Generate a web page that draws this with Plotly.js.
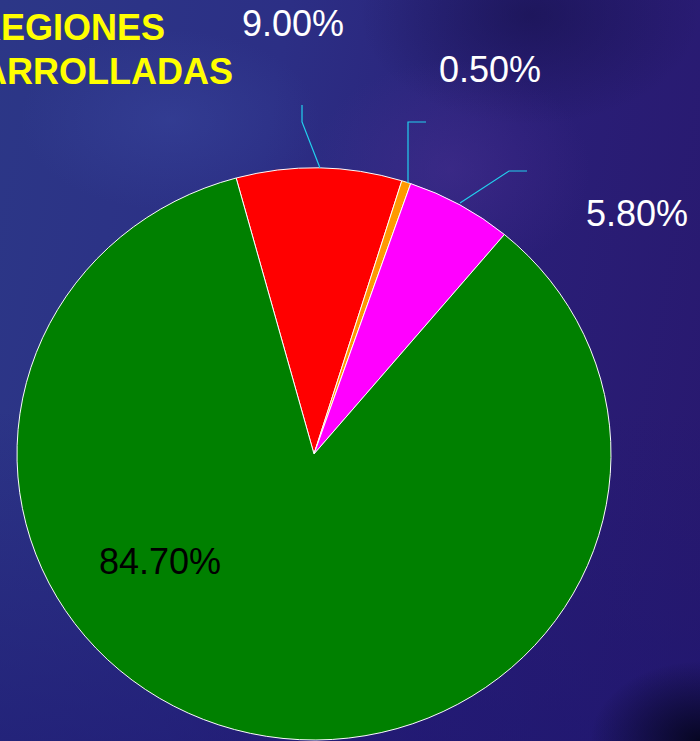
<!DOCTYPE html>
<html>
<head>
<meta charset="utf-8">
<script src="https://cdn.plot.ly/plotly-3.0.1.min.js"></script>
<style>
  html, body { margin:0; padding:0; width:700px; height:741px; overflow:hidden; }
  body {
    background:
      radial-gradient(ellipse 150px 90px at 170px 120px, rgba(58,72,160,0.45), rgba(58,72,160,0) 100%),
      radial-gradient(ellipse 140px 110px at 450px 170px, rgba(80,50,150,0.40), rgba(80,50,150,0) 100%),
      radial-gradient(ellipse 110px 80px at 700px 741px, rgba(5,5,30,0.95), rgba(5,5,30,0) 100%),
      radial-gradient(ellipse 170px 110px at 530px 15px, rgba(20,15,70,0.55), rgba(20,15,70,0) 100%),
      linear-gradient(180deg, rgba(0,0,0,0) 55%, rgba(28,22,112,0.55) 100%),
      linear-gradient(100deg, #2c3787 0%, #2c2f85 35%, #2a1f78 65%, #28186e 100%);
  }
  #chart { width:700px; height:760px; }
</style>
</head>
<body>
<div id="chart"></div>
<script>
// ---- data ----
const categories = ['9.00%', '0.50%', '5.80%', '84.70%'];
const values = [9.0, 0.5, 5.8, 84.7];
const sliceColors = ['#ff0000', '#ff9900', '#ff00ff', '#008000'];
const titleLines = ['REGIONES', 'DESARROLLADAS'];

// ---- layout helpers (pixels -> paper) ----
const W = 700, H = 760;
const px = x => x / W;
const py = y => (H - y) / H;

const cx = 314, cy = 454, rx = 297, ry = 286;

const labelText = values.map(v => v.toFixed(2) + '%');
const labelPos = [[293, 24], [490, 70], [637, 213], [160, 561]];
const labelColor = ['#ffffff', '#ffffff', '#ffffff', '#000000'];

const leaders = [
  [[320, 168], [302, 122], [302, 105]],
  [[408, 183], [408, 122], [426, 122]],
  [[460, 203], [509, 171], [527, 171]]
];

const annotations = labelText.map((t, i) => ({
  text: t, xref: 'paper', yref: 'paper',
  x: px(labelPos[i][0]), y: py(labelPos[i][1]),
  xanchor: 'center', yanchor: 'middle', showarrow: false,
  font: { family: 'Liberation Sans, Arial, sans-serif', size: 36, color: labelColor[i] }
}));
const titleY = [27, 71];
titleLines.forEach((t, i) => annotations.push({
  text: '<b>' + t + '</b>', xref: 'paper', yref: 'paper',
  x: px(70), y: py(titleY[i]), xanchor: 'center', yanchor: 'middle', showarrow: false,
  font: { family: 'Liberation Sans, Arial, sans-serif', size: 36, color: '#ffff00' }
}));

const shapes = leaders.map(pts => ({
  type: 'path', xref: 'paper', yref: 'paper',
  path: pts.map((p, j) => (j ? 'L' : 'M') + px(p[0]) + ',' + py(p[1])).join(' '),
  line: { color: '#22d0ee', width: 1.2 }
}));

const trace = {
  type: 'pie',
  labels: categories,
  values: values,
  sort: false,
  direction: 'clockwise',
  rotation: -15.2,
  textinfo: 'none',
  hoverinfo: 'none',
  marker: { colors: sliceColors, line: { color: '#ffffff', width: 1 } },
  domain: { x: [px(cx - rx), px(cx + rx)], y: [py(cy + rx), py(cy - rx)] }
};

const layout = {
  width: W, height: H,
  margin: { l: 0, r: 0, t: 0, b: 0 },
  paper_bgcolor: 'rgba(0,0,0,0)',
  plot_bgcolor: 'rgba(0,0,0,0)',
  showlegend: false,
  annotations: annotations,
  shapes: shapes
};

Plotly.newPlot('chart', [trace], layout, { staticPlot: true, displayModeBar: false }).then(() => {
  const s = ry / rx;
  const g = document.querySelector('.pielayer');
  if (g) g.setAttribute('transform', 'translate(0,' + (cy * (1 - s)) + ') scale(1,' + s + ')');
});
</script>
</body>
</html>
